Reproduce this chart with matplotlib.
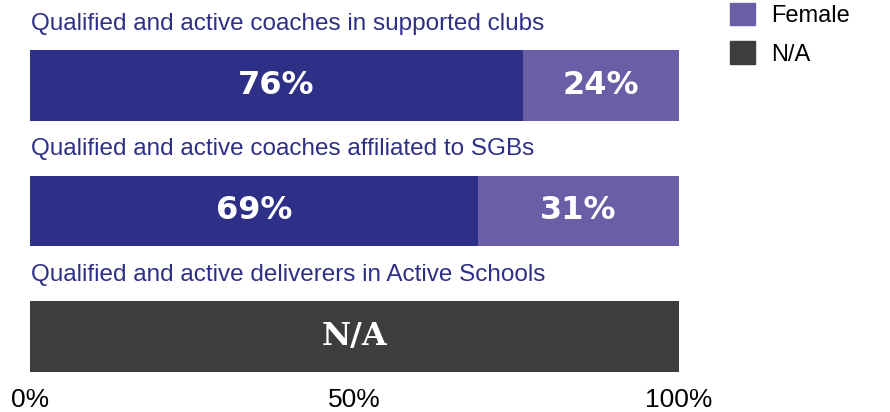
import matplotlib.pyplot as plt
from matplotlib.patches import Patch

# data
groups = ['Qualified and active coaches in supported clubs',
          'Qualified and active coaches affiliated to SGBs',
          'Qualified and active deliverers in Active Schools']
male = [76, 69, 0]
female = [24, 31, 0]
na = [0, 0, 100]
ticks = [0, 50, 100]
tick_labels = ['0%', '50%', '100%']

c_male = '#2e2f86'
c_female = '#6a5fa6'
c_na = '#3d3d3b'

fig = plt.figure(figsize=(8.9, 4.12), dpi=100)
ax = fig.add_axes([30 / 890, 32 / 412, 649 / 890, 380 / 412])

pos = list(range(len(groups)))
h = 0.565
ax.barh(pos, male, height=h, color=c_male)
ax.barh(pos, female, left=male, height=h, color=c_female)
ax.barh(pos, na, left=[m + f for m, f in zip(male, female)], height=h, color=c_na)

for i, g in enumerate(groups):
    ax.text(0.2, i - 0.49, g, ha='left', va='center', fontsize=17.5,
            color=c_male, family='Liberation Sans')
    if male[i]:
        ax.text(male[i] / 2, i, f'{male[i]}%', ha='center', va='center',
                fontsize=23, fontweight='bold', color='white')
    if female[i]:
        ax.text(male[i] + female[i] / 2, i, f'{female[i]}%', ha='center',
                va='center', fontsize=23, fontweight='bold', color='white')
    if na[i]:
        ax.text(na[i] / 2, i, 'N/A', ha='center', va='center', fontsize=23,
                fontweight='bold', color='white', family='DejaVu Serif')

ax.set_xlim(0, 100)
ax.set_ylim(2.347, -0.681)
ax.set_xticks(ticks)
ax.set_xticklabels(tick_labels, fontsize=19, family='Liberation Sans')
ax.tick_params(axis='x', length=0, pad=6)
ax.set_yticks([])
for s in ax.spines.values():
    s.set_visible(False)

handles = [Patch(color=c_female, label='Female'),
           Patch(color=c_na, label='N/A')]
fig.legend(handles=handles, loc='upper left', bbox_to_anchor=(709 / 890, 1 + 18 / 412),
           frameon=False, prop={'family': 'Liberation Sans', 'size': 17},
           handlelength=1.06, handleheight=1.06, labelspacing=0.6, handletextpad=0.68)

fig.savefig('out.png', dpi=100)
